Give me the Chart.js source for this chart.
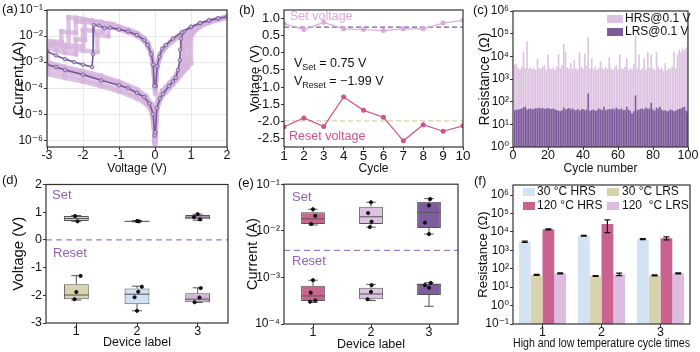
<!DOCTYPE html>
<html>
<head>
<meta charset="utf-8">
<script src="https://cdn.jsdelivr.net/npm/chart.js@4.4.1/dist/chart.umd.min.js"></script>
<style>
  body { margin: 0; background: #fff; }
  #wrap { position: relative; width: 700px; height: 352px; overflow: hidden; font-family: 'Liberation Sans', Arial, sans-serif; }
  #wrap canvas { position: absolute; }
  .tag { position: absolute; font-size: 13px; line-height: 13px; color: #111; }
</style>
</head>
<body>
<div id="wrap">
  <canvas id="chartA" width="233" height="176" style="left:0;top:0"></canvas>
  <canvas id="chartB" width="243" height="176" style="left:233px;top:0"></canvas>
  <canvas id="chartC" width="234" height="176" style="left:466px;top:0"></canvas>
  <canvas id="chartD" width="233" height="176" style="left:0;top:176px"></canvas>
  <canvas id="chartE" width="233" height="176" style="left:233px;top:176px"></canvas>
  <canvas id="chartF" width="234" height="176" style="left:466px;top:176px"></canvas>
  <div class="tag" style="left:2px;top:2px">(a)</div>
  <div class="tag" style="left:239px;top:3px">(b)</div>
  <div class="tag" style="left:473px;top:3px">(c)</div>
  <div class="tag" style="left:2px;top:173px">(d)</div>
  <div class="tag" style="left:238px;top:176px">(e)</div>
  <div class="tag" style="left:474px;top:174px">(f)</div>
</div>
<script>
// (a) I-V sweeps, [voltage, |current|]
var ivDark = [
  [0.01,2e-6],[0.05,1.7e-5],[0.14,4e-5],[0.22,6e-5],[0.39,1.2e-4],[0.5,1.8e-4],[0.58,2.5e-4],[0.64,5e-4],[0.69,1.2e-3],[0.7,3e-3],[0.72,8e-3],[0.8,1.5e-2],[1.0,2.2e-2],[1.25,3.1e-2],[1.5,3.9e-2],[1.75,4.7e-2],[2.0,5.5e-2],
  [1.75,4.8e-2],[1.5,4e-2],[1.25,3.2e-2],[1.0,2.3e-2],[0.75,1.4e-2],[0.5,8e-3],[0.3,4.5e-3],[0.2,3.3e-3],[0.12,1.6e-3],[0.06,7e-4],[0.02,1.2e-4],
  [-0.02,1.2e-4],[-0.05,8e-4],[-0.1,2e-3],[-0.2,4.5e-3],[-0.3,7e-3],[-0.5,1.1e-2],[-0.75,1.5e-2],[-1.0,1.8e-2],[-1.25,2.1e-2],[-1.4,2e-2],[-1.55,2.5e-2],[-1.7,2.6e-2],[-1.72,2e-3],[-1.75,6.5e-4],[-2.0,8e-4],[-2.25,1e-3],[-2.5,1.3e-3],[-2.75,1.8e-3],[-3.0,2.6e-3],
  [-3.0,8e-4],[-2.75,6.5e-4],[-2.5,5e-4],[-2.0,3.3e-4],[-1.5,2e-4],[-1.0,1.3e-4],[-0.75,1e-4],[-0.5,6.5e-5],[-0.3,4.5e-5],[-0.15,2.5e-5],[-0.05,1e-5],[-0.01,1.5e-6]
];
var ivLight1 = [
  [0.01,8e-7],[0.05,1.2e-5],[0.1,2.5e-5],[0.2,5e-5],[0.3,7e-5],[0.4,1e-4],[0.5,1.4e-4],[0.6,2e-4],[0.7,3e-4],[0.8,4.5e-4],[0.9,6e-4],[1.0,9e-4],[1.0,1e-2],[1.25,2.5e-2],[1.5,3.5e-2],[1.75,4.5e-2],[2.0,5.5e-2],
  [1.5,3.8e-2],[1.0,2e-2],[0.75,1.2e-2],[0.5,7e-3],[0.3,4e-3],[0.15,2e-3],[0.05,6e-4],[0.01,8e-5],
  [-0.05,9e-4],[-0.1,2.2e-3],[-0.2,5e-3],[-0.3,8e-3],[-0.5,1.2e-2],[-0.75,1.7e-2],[-1.0,2e-2],[-1.25,2.4e-2],[-1.5,3e-2],[-1.75,3.8e-2],[-2.0,4.5e-2],[-2.2,5e-2],[-2.4,5.2e-2],[-2.4,4e-3],[-2.6,4.5e-3],[-2.8,5e-3],[-3.0,5e-3],
  [-3.0,1e-3],[-2.5,6.5e-4],[-2.0,4.5e-4],[-1.5,3e-4],[-1.0,1.8e-4],[-0.5,9e-5],[-0.25,5e-5],[-0.1,2.5e-5],[-0.03,5e-6],[-0.005,7e-7]
];
var ivLight2 = [
  [0.01,1.5e-6],[0.05,2e-5],[0.1,3.5e-5],[0.2,6.5e-5],[0.3,9e-5],[0.4,1.3e-4],[0.5,1.8e-4],[0.6,2.7e-4],[0.7,4e-4],[0.8,7e-4],[0.85,1e-3],[0.85,8e-3],[1.0,1.5e-2],[1.25,2.3e-2],[1.5,3.3e-2],[1.75,4.2e-2],[2.0,5e-2],
  [1.5,3.5e-2],[1.0,1.8e-2],[0.75,1.1e-2],[0.5,6.5e-3],[0.3,3.8e-3],[0.15,1.8e-3],[0.05,5e-4],[0.01,6e-5],
  [-0.05,7e-4],[-0.1,1.8e-3],[-0.2,4e-3],[-0.3,6.5e-3],[-0.5,1e-2],[-0.75,1.4e-2],[-1.0,1.8e-2],[-1.25,2.2e-2],[-1.5,2.8e-2],[-1.75,3.3e-2],[-2.0,3.5e-2],[-2.2,3.6e-2],[-2.2,1.3e-2],[-2.4,1.4e-2],[-2.6,1.5e-2],[-2.6,6e-3],[-2.8,6e-3],[-3.0,6.5e-3],
  [-3.0,3.5e-4],[-2.5,2.5e-4],[-2.0,1.8e-4],[-1.5,1.2e-4],[-1.0,7.5e-5],[-0.5,4e-5],[-0.25,2.5e-5],[-0.1,1.3e-5],[-0.03,4e-6],[-0.005,1e-6]
];
var ivLight3 = [
  [0.01,2e-6],[0.05,2.5e-5],[0.1,4e-5],[0.2,8e-5],[0.3,1.1e-4],[0.4,1.6e-4],[0.5,2.2e-4],[0.6,3.5e-4],[0.7,6e-4],[0.75,9e-4],[0.75,6e-3],[0.9,1.2e-2],[1.0,1.7e-2],[1.25,2.6e-2],[1.5,3.6e-2],[1.75,4.5e-2],[2.0,5.5e-2],
  [1.5,3.7e-2],[1.0,2e-2],[0.75,1.3e-2],[0.5,7.5e-3],[0.3,4.2e-3],[0.15,2.2e-3],[0.05,7e-4],[0.01,1e-4],
  [-0.05,1e-3],[-0.1,2.5e-3],[-0.2,5.5e-3],[-0.3,8.5e-3],[-0.5,1.3e-2],[-0.75,1.8e-2],[-1.0,2.2e-2],[-1.25,2.8e-2],[-1.5,3.5e-2],[-1.75,4e-2],[-1.95,4.2e-2],[-1.95,7e-3],[-2.2,7.5e-3],[-2.2,2e-3],[-2.5,2.3e-3],[-2.75,2.8e-3],[-3.0,3.5e-3],
  [-3.0,9e-4],[-2.5,6e-4],[-2.0,4e-4],[-1.5,2.6e-4],[-1.0,1.6e-4],[-0.5,8e-5],[-0.25,4.5e-5],[-0.1,2.2e-5],[-0.03,5e-6],[-0.005,1e-6]
];
var ivLight4 = [
  [0.01,1e-6],[0.05,1.5e-5],[0.1,3e-5],[0.2,5.5e-5],[0.3,8e-5],[0.4,1.1e-4],[0.5,1.5e-4],[0.6,2.2e-4],[0.7,3.3e-4],[0.8,5e-4],[0.9,8e-4],[0.95,1.5e-3],[0.95,5e-3],[1.0,1.2e-2],[1.25,2.4e-2],[1.5,3.4e-2],[1.75,4.4e-2],[2.0,5.2e-2],
  [1.5,3.5e-2],[1.0,1.9e-2],[0.75,1.2e-2],[0.5,7e-3],[0.3,4e-3],[0.15,2e-3],[0.05,6e-4],[0.01,8e-5],
  [-0.05,8e-4],[-0.1,2e-3],[-0.2,4.5e-3],[-0.3,7e-3],[-0.5,1.1e-2],[-0.75,1.6e-2],[-1.0,2.2e-2],[-1.25,2.8e-2],[-1.45,3.2e-2],[-1.45,1.5e-2],[-1.7,1.6e-2],[-2.0,1.7e-2],[-2.0,4e-3],[-2.5,4.5e-3],[-3.0,5e-3],
  [-3.0,5e-4],[-2.5,3.5e-4],[-2.0,2.3e-4],[-1.5,1.5e-4],[-1.0,9e-5],[-0.5,5e-5],[-0.25,3e-5],[-0.1,1.5e-5],[-0.03,3e-6],[-0.005,8e-7]
];
var ivLight5 = [
  [0.01,1.2e-6],[0.05,2e-5],[0.1,3.5e-5],[0.2,7e-5],[0.3,1e-4],[0.4,1.4e-4],[0.5,2e-4],[0.6,3e-4],[0.7,5e-4],[0.8,8e-4],[0.8,4e-3],[0.9,1e-2],[1.0,1.5e-2],[1.25,2.5e-2],[1.5,3.5e-2],[1.75,4.4e-2],[2.0,5.3e-2],
  [1.5,3.6e-2],[1.0,1.9e-2],[0.75,1.2e-2],[0.5,7e-3],[0.3,4e-3],[0.15,2e-3],[0.05,6e-4],[0.01,9e-5],
  [-0.05,9e-4],[-0.1,2.2e-3],[-0.2,5e-3],[-0.3,7.5e-3],[-0.5,1.2e-2],[-0.75,1.7e-2],[-1.0,2.3e-2],[-1.15,2.8e-2],[-1.3,3e-2],[-1.3,1e-2],[-1.6,1.1e-2],[-1.6,2.5e-3],[-2.0,2.8e-3],[-2.5,3.5e-3],[-3.0,4.5e-3],
  [-3.0,7e-4],[-2.5,5e-4],[-2.0,3.5e-4],[-1.5,2.3e-4],[-1.0,1.4e-4],[-0.5,7e-5],[-0.25,4e-5],[-0.1,2e-5],[-0.03,4.5e-6],[-0.005,9e-7]
];
var ivLight = [ivLight1, ivLight2, ivLight3, ivLight4, ivLight5];

// (b) set / reset voltage per cycle
var cycles = [1, 2, 3, 4, 5, 6, 7, 8, 9, 10];
var setVoltage = [0.85, 0.68, 0.89, 0.70, 0.68, 0.65, 0.70, 0.70, 0.87, 0.95];
var resetVoltage = [-2.16, -1.90, -2.15, -1.29, -1.68, -1.88, -2.57, -2.10, -2.29, -2.13];
var vSetMean = 0.75;
var vResetMean = -1.99;
var bVoltTicks = [-2.5, -2, -1.5, -1, -0.5, 0, 0.5, 1];

// (c) resistance at 0.1 V over 100 cycles
var hrs = [
  4500, 4800, 3000, 2600, 3500, 16000, 3000, 45000, 2800, 3200,
  2700, 3000, 2500, 8000, 3000, 2800, 3500, 4000, 2600, 12000,
  3000, 2700, 3200, 2500, 3500, 12000, 3000, 4000, 35000, 16000,
  3200, 2800, 5000, 2700, 7000, 3000, 2600, 15000, 3500, 2800,
  13000, 4000, 70000, 3000, 8000, 2700, 3500, 2500, 3000, 6000,
  3000, 2600, 3500, 2800, 9000, 3000, 2500, 3200, 4000, 2600,
  12000, 3000, 2700, 3500, 8000, 2500, 3000, 2700, 4500, 80000,
  3000, 12000, 2500, 3000, 8000, 2600, 15000, 3200, 12000, 3000,
  2500, 15000, 3500, 2600, 3000, 2200, 5000, 2500, 3000, 2800,
  3500, 16000, 3000, 12000, 20000, 15000, 22000, 18000, 25000, 110000
];
var lrs = [
  42, 45, 44, 48, 50, 55, 60, 45, 47, 50,
  46, 48, 52, 50, 54, 50, 53, 48, 50, 52,
  49, 47, 50, 45, 43, 40, 38, 42, 55, 45,
  48, 52, 46, 50, 44, 42, 48, 40, 45, 47,
  42, 45, 230, 40, 43, 45, 40, 42, 50, 45,
  44, 60, 42, 45, 48, 46, 50, 44, 55, 47,
  45, 50, 42, 44, 60, 45, 40, 30, 38, 190,
  42, 45, 48, 50, 45, 55, 48, 50, 90, 45,
  40, 55, 50, 60, 45, 40, 42, 38, 40, 45,
  42, 38, 40, 45, 48, 50, 55, 60, 40, 32
];

// (d) set / reset voltage box plots per device
var devices = [1, 2, 3];
var dSetQ = [[0.68, 0.86], [0.66, 0.69], [0.75, 0.90]];
var dSetMin = [0.67, 0.65, 0.71];
var dSetMed = [0.77, 0.67, 0.82];
var dSetMax = [0.88, 0.70, 0.93];
var dResetQ = [[-2.14, -1.60], [-2.32, -1.75], [-2.25, -1.93]];
var dResetMin = [-2.17, -2.56, -2.26];
var dResetMed = [-1.99, -1.96, -2.14];
var dResetMax = [-1.29, -1.67, -1.73];
var dSetPts = [[0.98, 0.86], [1.02, 0.67], [2.0, 0.68], [2.03, 0.67], [3.0, 0.93], [2.94, 0.82], [3.04, 0.74]];
var dResetPts = [[1.07, -1.30], [1.0, -1.88], [0.97, -2.14], [2.08, -1.69], [2.02, -1.87], [1.96, -2.07], [2.0, -2.56], [3.05, -1.74], [3.03, -2.08], [2.95, -2.25]];
var dSplit = 0;

// (e) set / reset current box plots per device
var eSetQ = [[1.4e-2, 2.5e-2], [1.4e-2, 3.3e-2], [1.15e-2, 4.2e-2]];
var eSetMin = [1.33e-2, 1.2e-2, 8.5e-3];
var eSetMed = [1.8e-2, 2.0e-2, 2.5e-2];
var eSetMax = [2.9e-2, 4.1e-2, 4.9e-2];
var eResetQ = [[3.1e-4, 6.6e-4], [3.4e-4, 6.0e-4], [4.2e-4, 7.4e-4]];
var eResetMin = [2.9e-4, 3.2e-4, 2.4e-4];
var eResetMed = [4.0e-4, 4.4e-4, 7.0e-4];
var eResetMax = [8.7e-4, 7.1e-4, 7.7e-4];
var eSetPts = [[1.04, 2.1e-2], [0.97, 1.4e-2], [1.0, 2.9e-2], [1.95, 2.4e-2], [2.01, 1.57e-2], [2.0, 4.1e-2], [1.98, 1.2e-2], [3.0, 3.5e-2], [2.93, 1.5e-2], [3.02, 4.8e-2], [3.0, 8.5e-3]];
var eResetPts = [[0.96, 4.7e-4], [1.04, 3.2e-4], [1.0, 8.7e-4], [0.95, 3.0e-4], [2.0, 4.9e-4], [1.94, 3.4e-4], [2.01, 6.8e-4], [2.93, 6.8e-4], [3.0, 6.0e-4], [3.03, 7.6e-4]];
var eSplit = 3.8e-3;

// (f) resistance after high / low temperature cycles
var tempCycles = ['1', '2', '3'];
var r30HRS = [2900, 6200, 4000];
var r30HRSerr = [250, 300, 250];
var r30LRS = [46, 40, 44];
var r30LRSerr = [3, 2, 3];
var r120HRS = [13700, 27000, 4500];
var r120HRSerr = [1000, 18000, 800];
var r120LRS = [56, 50, 56];
var r120LRSerr = [3, 8, 3];

var FONT = "'Liberation Sans', Arial, 'DejaVu Sans', sans-serif";
Chart.defaults.font.family = FONT;
Chart.defaults.font.size = 12.5;
Chart.defaults.color = '#111';
Chart.defaults.animation = false;
Chart.defaults.responsive = false;
Chart.defaults.plugins.legend.display = false;
Chart.defaults.plugins.tooltip.enabled = false;

var SUP = {'-': '\u207B', '0': '\u2070', '1': '\u00B9', '2': '\u00B2', '3': '\u00B3', '4': '\u2074', '5': '\u2075', '6': '\u2076', '7': '\u2077', '8': '\u2078', '9': '\u2079'};
function pow10Label(v) {
    var e = String(Math.round(Math.log10(v)));
    return '10' + e.split('').map(c => SUP[c]).join('');
}
function decadeTicks(lo, hi) {
    return function (scale) {
        var t = [];
        for (let e = lo; e <= hi; e++) t.push({value: Math.pow(10, e)});
        scale.ticks = t;
    };
}
function fixedTicks(vals) {
    return function (scale) { scale.ticks = vals.map(v => ({value: v})); };
}

// common axis look: outward ticks, no own border (frame plugin draws the box)
function baseAxis(title, size, tpad, horizontal, tsize) {
    return {
        border: {display: false},
        grid: {drawOnChartArea: false, offset: false, tickLength: 3, tickColor: '#333'},
        ticks: {padding: horizontal ? -2 : 1, maxRotation: 0, autoSkip: false, color: '#111'},
        title: {display: true, text: title, color: '#111', font: {size: tsize || 12},
                padding: horizontal ? {top: 0, bottom: tpad} : {top: tpad, bottom: 0}},
        afterFit: horizontal ? function (s) { s.height = size; } : function (s) { s.width = size; }
    };
}

// full box round the plot area
Chart.register({
    id: 'frame',
    afterDraw(chart) {
        var a = chart.chartArea, ctx = chart.ctx;
        ctx.save();
        ctx.strokeStyle = '#333';
        ctx.lineWidth = 1.2;
        ctx.strokeRect(a.left, a.top, a.right - a.left, a.bottom - a.top);
        ctx.restore();
    }
});

// free text, legend swatches, subscripts
Chart.register({
    id: 'notes',
    afterDraw(chart, args, opts) {
        var ctx = chart.ctx;
        (opts.items || []).forEach(it => {
            ctx.save();
            if (it.rect) {
                ctx.fillStyle = it.color;
                ctx.fillRect(it.rect[0], it.rect[1], it.rect[2], it.rect[3]);
                ctx.restore();
                return;
            }
            var x = it.x;
            ctx.fillStyle = it.color || '#111';
            ctx.textBaseline = 'middle';
            ctx.textAlign = 'left';
            (it.parts || [{t: it.text}]).forEach(p => {
                var size = p.sub ? 9 : (it.size || 12);
                ctx.font = size + 'px ' + FONT;
                ctx.fillText(p.t, x, it.y + (p.sub ? 4 : 0));
                x += ctx.measureText(p.t).width;
            });
            ctx.restore();
        });
    }
});

// whiskers + median on floating-bar boxes
Chart.register({
    id: 'boxes',
    afterDatasetDraw(chart, args) {
        var ds = chart.data.datasets[args.index];
        if (!ds.whisker) return;
        var y = chart.scales.y, ctx = chart.ctx;
        ctx.save();
        ctx.strokeStyle = '#555';
        ctx.lineWidth = 1;
        args.meta.data.forEach((bar, j) => {
            var half = bar.width / 2, cap = bar.width * 0.2;
            var q = ds.data[j].y;
            var yQ1 = y.getPixelForValue(q[0]), yQ3 = y.getPixelForValue(q[1]);
            var yLo = y.getPixelForValue(ds.whisker.lo[j]);
            var yHi = y.getPixelForValue(ds.whisker.hi[j]);
            var yMid = y.getPixelForValue(ds.whisker.mid[j]);
            ctx.beginPath();
            ctx.moveTo(bar.x, yQ3); ctx.lineTo(bar.x, yHi);
            ctx.moveTo(bar.x - cap, yHi); ctx.lineTo(bar.x + cap, yHi);
            ctx.moveTo(bar.x, yQ1); ctx.lineTo(bar.x, yLo);
            ctx.moveTo(bar.x - cap, yLo); ctx.lineTo(bar.x + cap, yLo);
            ctx.moveTo(bar.x - half, yMid); ctx.lineTo(bar.x + half, yMid);
            ctx.stroke();
        });
        ctx.restore();
    }
});

// symmetric error bars on grouped bars
Chart.register({
    id: 'errbars',
    afterDatasetsDraw(chart) {
        var y = chart.scales.y, ctx = chart.ctx;
        chart.data.datasets.forEach((ds, i) => {
            if (!ds.err) return;
            ctx.save();
            ctx.strokeStyle = '#111';
            ctx.lineWidth = 1.2;
            chart.getDatasetMeta(i).data.forEach((bar, j) => {
                var lo = y.getPixelForValue(ds.data[j] - ds.err[j]);
                var hi = y.getPixelForValue(ds.data[j] + ds.err[j]);
                ctx.beginPath();
                ctx.moveTo(bar.x, lo); ctx.lineTo(bar.x, hi);
                ctx.moveTo(bar.x - 3, lo); ctx.lineTo(bar.x + 3, lo);
                ctx.moveTo(bar.x - 3, hi); ctx.lineTo(bar.x + 3, hi);
                ctx.stroke();
            });
            ctx.restore();
        });
    }
});

function pts(arr) { return arr.map(p => ({x: p[0], y: p[1]})); }

// ---------- (a) ----------
var LIGHT_IV = 'rgba(214,180,220,0.8)';
var DARK_IV = '#745a9c';
var aDatasets = [{
    data: pts(ivDark), showLine: true, borderColor: DARK_IV, borderWidth: 1.6,
    pointRadius: 1.8, pointBorderWidth: 0.8, pointBorderColor: DARK_IV, pointBackgroundColor: '#c9b6dd'
}];
ivLight.forEach(t => {
    aDatasets.push({
        data: pts(t), showLine: true, borderColor: LIGHT_IV, borderWidth: 4.5,
        pointRadius: 2.6, pointBorderWidth: 0, pointBackgroundColor: LIGHT_IV
    });
});
var axAx = baseAxis('Voltage (V)', 29, 0, true, 12);
axAx.type = 'linear'; axAx.min = -3; axAx.max = 2;
axAx.ticks.stepSize = 1;
axAx.grid.drawOnChartArea = true; axAx.grid.color = '#e9e9e9';
var axAy = baseAxis('Current (A)', 47, 10, false, 15);
axAy.type = 'logarithmic'; axAy.min = 5.5e-7; axAy.max = 0.1;
axAy.afterBuildTicks = decadeTicks(-6, -1);
axAy.ticks.callback = pow10Label;
axAy.ticks.font = {size: 12};
axAy.grid.drawOnChartArea = true; axAy.grid.color = '#e9e9e9';
new Chart(document.getElementById('chartA'), {
    type: 'scatter',
    data: {datasets: aDatasets},
    options: {layout: {padding: {left: 0, top: 10, right: 6, bottom: 0}}, scales: {x: axAx, y: axAy}}
});

// ---------- (b) ----------
var SET_C = '#dba9da', RESET_C = '#d0528b';
var bxAx = baseAxis('Cycle', 29, 0, true, 12);
bxAx.type = 'linear'; bxAx.min = 1; bxAx.max = 10; bxAx.ticks.stepSize = 1;
bxAx.ticks.font = {size: 13.5};
var byAx = baseAxis('Voltage (V)', 51, 14, false, 13.5);
byAx.type = 'linear'; byAx.min = -2.75; byAx.max = 1.25;
byAx.afterBuildTicks = fixedTicks(bVoltTicks);
byAx.ticks.callback = v => v.toFixed(1);
byAx.ticks.font = {size: 13};
new Chart(document.getElementById('chartB'), {
    type: 'scatter',
    data: {datasets: [
        {data: cycles.map((c, i) => ({x: c, y: setVoltage[i]})), showLine: true, borderColor: SET_C, backgroundColor: SET_C, borderWidth: 1.2, pointRadius: 1.9},
        {data: cycles.map((c, i) => ({x: c, y: resetVoltage[i]})), showLine: true, borderColor: RESET_C, backgroundColor: RESET_C, borderWidth: 1.2, pointRadius: 1.9},
        {data: [{x: 1, y: vSetMean}, {x: 10, y: vSetMean}], showLine: true, borderColor: '#7b5aa6', borderDash: [5, 3], borderWidth: 1.2, pointRadius: 0},
        {data: [{x: 1, y: vResetMean}, {x: 10, y: vResetMean}], showLine: true, borderColor: '#d8d2a2', borderDash: [5, 3], borderWidth: 1.2, pointRadius: 0}
    ]},
    options: {
        layout: {padding: {left: 0, top: 10, right: 13, bottom: 0}},
        scales: {x: bxAx, y: byAx},
        plugins: {notes: {items: [
            {text: 'Set voltage', x: 57, y: 17, color: SET_C, size: 12.5},
            {text: 'Reset voltage', x: 56, y: 137, color: RESET_C, size: 12.5},
            {parts: [{t: 'V'}, {t: 'Set', sub: true}, {t: ' = 0.75 V'}], x: 61, y: 64, size: 12.5},
            {parts: [{t: 'V'}, {t: 'Reset', sub: true}, {t: ' = \u22121.99 V'}], x: 61, y: 82, size: 12.5}
        ]}}
    }
});

// ---------- (c) ----------
var HRS_C = '#dcc2e0', LRS_C = '#7d5c9c';
var cxAx = baseAxis('Cycle number', 29, 0, true, 12);
cxAx.type = 'linear'; cxAx.min = 0; cxAx.max = 100; cxAx.offset = false; cxAx.ticks.stepSize = 20;
var cyAx = baseAxis('Resistance (\u03A9)', 47, 11, false, 14);
cyAx.type = 'logarithmic'; cyAx.min = 1; cyAx.max = 1e6;
cyAx.afterBuildTicks = decadeTicks(0, 6);
cyAx.ticks.callback = pow10Label;
cyAx.ticks.font = {size: 12};
new Chart(document.getElementById('chartC'), {
    type: 'bar',
    data: {datasets: [
        {data: lrs.map((v, i) => ({x: i + 1, y: v})), backgroundColor: LRS_C},
        {data: hrs.map((v, i) => ({x: i + 1, y: v})), backgroundColor: HRS_C}
    ]},
    options: {
        datasets: {bar: {grouped: false, barPercentage: 0.92, categoryPercentage: 1}},
        layout: {padding: {left: 0, top: 11, right: 12, bottom: 0}},
        scales: {x: cxAx, y: cyAx},
        plugins: {notes: {items: [
            {rect: [141, 15, 16, 8], color: HRS_C},
            {rect: [141, 28, 16, 8], color: LRS_C},
            {text: 'HRS@0.1 V', x: 159, y: 19},
            {text: 'LRS@0.1 V', x: 159, y: 32}
        ]}}
    }
});

// ---------- (d) ----------
var SPLIT_C = '#9d7cc9', NOTE_C = '#8b62b7';
var dBoxColors = ['#d9d4b0', '#cfe1f2', '#d3b4d8'];
var dxAx = baseAxis('Device label', 29, 2, true, 12.5);
dxAx.type = 'linear'; dxAx.min = 0.5; dxAx.max = 3.5; dxAx.offset = false;
dxAx.afterBuildTicks = fixedTicks(devices);
var dyAx = baseAxis('Voltage (V)', 46, 10, false, 15);
dyAx.type = 'linear'; dyAx.min = -3; dyAx.max = 2; dyAx.ticks.stepSize = 1;
new Chart(document.getElementById('chartD'), {
    type: 'bar',
    data: {datasets: [
        {type: 'scatter', data: pts(dSetPts), pointRadius: 1.6, backgroundColor: '#111', borderColor: '#111'},
        {type: 'scatter', data: pts(dResetPts), pointRadius: 1.6, backgroundColor: '#111', borderColor: '#111'},
        {data: devices.map((d, i) => ({x: d, y: dSetQ[i]})), backgroundColor: dBoxColors, borderColor: '#555', borderWidth: 1, borderSkipped: false,
         whisker: {lo: dSetMin, mid: dSetMed, hi: dSetMax}},
        {data: devices.map((d, i) => ({x: d, y: dResetQ[i]})), backgroundColor: dBoxColors, borderColor: '#555', borderWidth: 1, borderSkipped: false,
         whisker: {lo: dResetMin, mid: dResetMed, hi: dResetMax}},
        {type: 'scatter', data: [{x: 0.5, y: dSplit}, {x: 3.5, y: dSplit}], showLine: true, borderColor: SPLIT_C, borderDash: [6, 4], borderWidth: 1.3, pointRadius: 0}
    ]},
    options: {
        datasets: {bar: {grouped: false, barPercentage: 0.41, categoryPercentage: 1}},
        layout: {padding: {left: 0, top: 7, right: 5, bottom: 0}},
        scales: {x: dxAx, y: dyAx},
        plugins: {notes: {items: [
            {text: 'Set', x: 52, y: 19, color: NOTE_C, size: 13},
            {text: 'Reset', x: 53, y: 77, color: NOTE_C, size: 13}
        ]}}
    }
});

// ---------- (e) ----------
var eBoxColors = ['#c9658f', '#dcc1e0', '#7e5d9f'];
var exAx = baseAxis('Device label', 28, 0, true, 12.5);
exAx.type = 'linear'; exAx.min = 0.5; exAx.max = 3.5; exAx.offset = false;
exAx.afterBuildTicks = fixedTicks(devices);
var eyAx = baseAxis('Current (A)', 51, 11, false, 14.5);
eyAx.type = 'logarithmic'; eyAx.min = 1e-4; eyAx.max = 0.1;
eyAx.afterBuildTicks = decadeTicks(-4, -1);
eyAx.ticks.callback = pow10Label;
eyAx.ticks.font = {size: 12};
new Chart(document.getElementById('chartE'), {
    type: 'bar',
    data: {datasets: [
        {type: 'scatter', data: pts(eSetPts), pointRadius: 1.6, backgroundColor: '#111', borderColor: '#111'},
        {type: 'scatter', data: pts(eResetPts), pointRadius: 1.6, backgroundColor: '#111', borderColor: '#111'},
        {data: devices.map((d, i) => ({x: d, y: eSetQ[i]})), backgroundColor: eBoxColors, borderColor: '#555', borderWidth: 1, borderSkipped: false,
         whisker: {lo: eSetMin, mid: eSetMed, hi: eSetMax}},
        {data: devices.map((d, i) => ({x: d, y: eResetQ[i]})), backgroundColor: eBoxColors, borderColor: '#555', borderWidth: 1, borderSkipped: false,
         whisker: {lo: eResetMin, mid: eResetMed, hi: eResetMax}},
        {type: 'scatter', data: [{x: 0.5, y: eSplit}, {x: 3.5, y: eSplit}], showLine: true, borderColor: SPLIT_C, borderDash: [6, 4], borderWidth: 1.3, pointRadius: 0}
    ]},
    options: {
        datasets: {bar: {grouped: false, barPercentage: 0.41, categoryPercentage: 1}},
        layout: {padding: {left: 0, top: 7, right: 8, bottom: 0}},
        scales: {x: exAx, y: eyAx},
        plugins: {notes: {items: [
            {text: 'Set', x: 59, y: 21, color: NOTE_C, size: 13},
            {text: 'Reset', x: 59, y: 85, color: NOTE_C, size: 13}
        ]}}
    }
});

// ---------- (f) ----------
var C30H = '#d3e3f3', C30L = '#d8d3ac', C120H = '#c9628f', C120L = '#dcbde0';
var fxAx = baseAxis('High and low temperature cycle times', 28, 1, true, 12);
fxAx.type = 'category'; fxAx.offset = true;
var fyAx = baseAxis('Resistance (\u03A9)', 47, 10, false, 13);
fyAx.type = 'logarithmic'; fyAx.min = 0.1; fyAx.max = 3.5e6;
fyAx.afterBuildTicks = decadeTicks(-1, 6);
fyAx.ticks.callback = pow10Label;
fyAx.ticks.font = {size: 12};
new Chart(document.getElementById('chartF'), {
    type: 'bar',
    data: {labels: tempCycles, datasets: [
        {data: r30HRS, err: r30HRSerr, backgroundColor: C30H},
        {data: r30LRS, err: r30LRSerr, backgroundColor: C30L},
        {data: r120HRS, err: r120HRSerr, backgroundColor: C120H},
        {data: r120LRS, err: r120LRSerr, backgroundColor: C120L}
    ]},
    options: {
        datasets: {bar: {barPercentage: 1, categoryPercentage: 0.8}},
        layout: {padding: {left: 0, top: 9, right: 10, bottom: 0}},
        scales: {x: fxAx, y: fyAx},
        plugins: {notes: {items: [
            {rect: [57, 12, 12, 8], color: C30H},
            {rect: [141, 12, 12, 8], color: C30L},
            {rect: [57, 26, 12, 8], color: C120H},
            {rect: [141, 26, 12, 8], color: C120L},
            {text: '30 \u00B0C HRS', x: 71, y: 16},
            {text: '30 \u00B0C LRS', x: 156, y: 16},
            {text: '120 \u00B0C HRS', x: 71, y: 30},
            {text: '120  \u00B0C LRS', x: 156, y: 30}
        ]}}
    }
});
</script>
</body>
</html>
